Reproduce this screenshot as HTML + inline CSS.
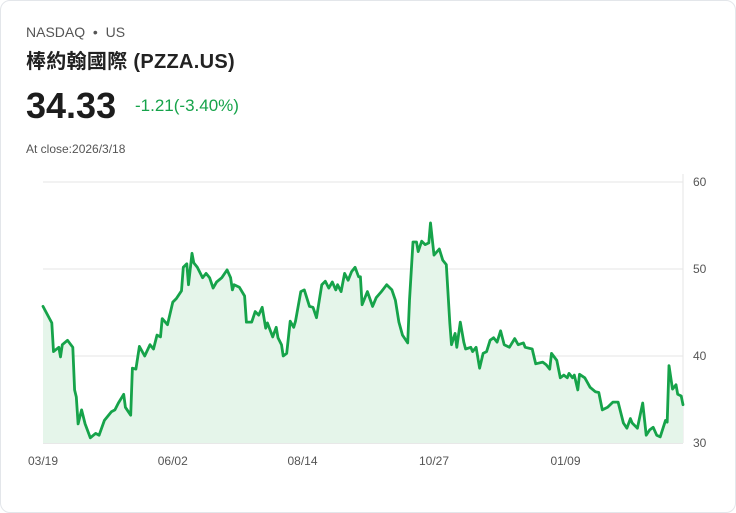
<!DOCTYPE html>
<html><head><meta charset="utf-8">
<style>
html,body{margin:0;padding:0;background:#fff;width:736px;height:513px;overflow:hidden}
body{font-family:"Liberation Sans","Noto Sans CJK TC",sans-serif;}
.card{position:absolute;left:0;top:0;width:734px;height:511px;border:1px solid #e3e6ea;border-radius:10px;background:#fff}
.t{position:absolute;white-space:nowrap}
</style></head><body>
<div class="card">
<div class="t" style="left:25px;top:23px;font-size:14px;color:#555">NASDAQ &nbsp;•&nbsp; US</div>
<div class="t" style="left:25px;top:44px;font-size:20px;font-weight:bold;color:#222;letter-spacing:0.3px">棒約翰國際 (PZZA.US)</div>
<div class="t" style="left:25px;top:84px;font-size:36px;font-weight:bold;color:#1c1c1c">34.33</div>
<div class="t" style="left:134px;top:95px;font-size:17px;color:#16a34a">-1.21(-3.40%)</div>
<div class="t" style="left:25px;top:141px;font-size:12px;color:#555">At close:2026/3/18</div>
<svg id="chart" width="736" height="513" style="position:absolute;left:-1px;top:-1px"></svg>
</div>
<script>
const days=[0,5,6,9,10,11,14,17,18,19,20,22,24,27,30,32,35,39,41,43,46,47,50,51,53,55,58,61,63,65,67,68,71,74,76,79,80,82,83,85,86,88,91,93,95,97,99,102,105,107,108,109,112,115,116,119,121,123,125,127,128,131,133,134,136,137,139,141,143,144,147,149,152,154,156,159,161,163,165,167,168,170,172,174,176,178,180,181,182,185,188,190,193,196,199,201,203,205,208,209,211,213,214,216,218,220,221,223,226,228,230,232,233,235,236,238,240,241,244,245,247,249,251,253,255,257,259,261,263,266,269,271,274,275,279,281,285,287,289,290,293,295,297,299,300,302,303,305,306,309,312,315,317,319,322,325,328,331,333,335,336,339,342,344,346,348,350,352,355,356,357,359,361,362,364,365];
const prices=[45.7,43.8,40.5,41.0,39.9,41.3,41.8,41.0,36.1,35.3,32.2,33.8,32.2,30.6,31.1,30.9,32.6,33.6,33.8,34.6,35.6,34.1,33.2,38.6,38.5,41.1,40.0,41.3,40.8,42.4,42.2,44.3,43.6,46.2,46.6,47.5,50.2,50.6,48.2,51.8,50.7,50.2,49.0,49.5,49.0,47.8,48.5,49.0,49.9,49.0,47.6,48.2,47.9,46.9,43.9,43.9,45.1,44.7,45.6,43.2,43.8,42.2,43.3,42.1,41.3,40.0,40.3,44.0,43.3,44.0,47.4,47.6,45.7,45.6,44.4,48.2,48.6,47.8,48.5,47.6,48.2,47.4,49.5,48.7,49.7,50.2,49.1,49.1,45.9,47.4,45.7,46.7,47.4,48.2,47.6,46.4,43.9,42.4,41.5,46.4,53.1,53.1,52.0,53.2,52.8,53.0,55.3,51.6,52.3,51.0,50.5,43.8,41.3,42.6,41.0,43.9,41.6,40.8,41.0,40.5,41.0,38.6,40.3,40.5,41.8,42.1,41.6,42.9,41.3,41.0,42.0,41.3,41.5,41.0,40.8,39.1,39.3,39.0,38.5,40.3,39.5,37.5,37.8,37.5,38.0,37.5,37.8,36.1,37.9,37.5,36.4,35.9,35.8,33.8,34.1,34.7,34.7,32.3,31.7,32.8,32.3,31.7,34.6,30.9,31.5,31.8,30.9,30.7,32.6,32.4,38.9,36.2,36.7,35.6,35.4,34.4];
const yTicks=[30,40,50,60];
const xTickLabels=["03/19","06/02","08/14","10/27","01/09"];
const xTickDays=[0,74,148,223,298];
const svg=document.getElementById('chart');const NS='http://www.w3.org/2000/svg';
const X0=43,X1=683,Y0=443,Y1=182;
const xs=d=>X0+d/365*(X1-X0);
const ys=v=>Y0-(v-30)/30*(Y0-Y1);
function mk(t,a){const e=document.createElementNS(NS,t);for(const k in a)e.setAttribute(k,a[k]);svg.appendChild(e);return e;}
yTicks.forEach(v=>{
 const g=mk('line',{x1:X0,x2:X1,y1:ys(v),y2:ys(v),stroke:v===30?'#d0d0d0':'#e6e6e6','stroke-width':1});
 
 
 const t=mk('text',{x:693,y:ys(v)+4,'font-size':12,fill:'#555','font-family':'Liberation Sans, sans-serif'});
 t.textContent=v;
 
 
});
const ax=mk('line',{x1:X1,x2:X1,y1:Y1-8,y2:Y0,stroke:'#e6e6e6','stroke-width':1});


xTickLabels.forEach((l,i)=>{
 const t=mk('text',{x:xs(xTickDays[i]),y:465,'font-size':12,fill:'#555','text-anchor':'middle','font-family':'Liberation Sans, sans-serif'});
 t.textContent=l;
 
 
});
let d='';days.forEach((v,i)=>{d+=(i?'L':'M')+xs(v).toFixed(1)+' '+ys(prices[i]).toFixed(1);});
const area=mk('path',{d:d+'L'+xs(days[days.length-1])+' '+Y0+'L'+xs(days[0])+' '+Y0+'Z',fill:'#e5f5ea'});


const line=mk('path',{d:d,fill:'none',stroke:'#16a34a','stroke-width':2.8,'stroke-linejoin':'round','stroke-linecap':'round'});


</script>
</body></html>
